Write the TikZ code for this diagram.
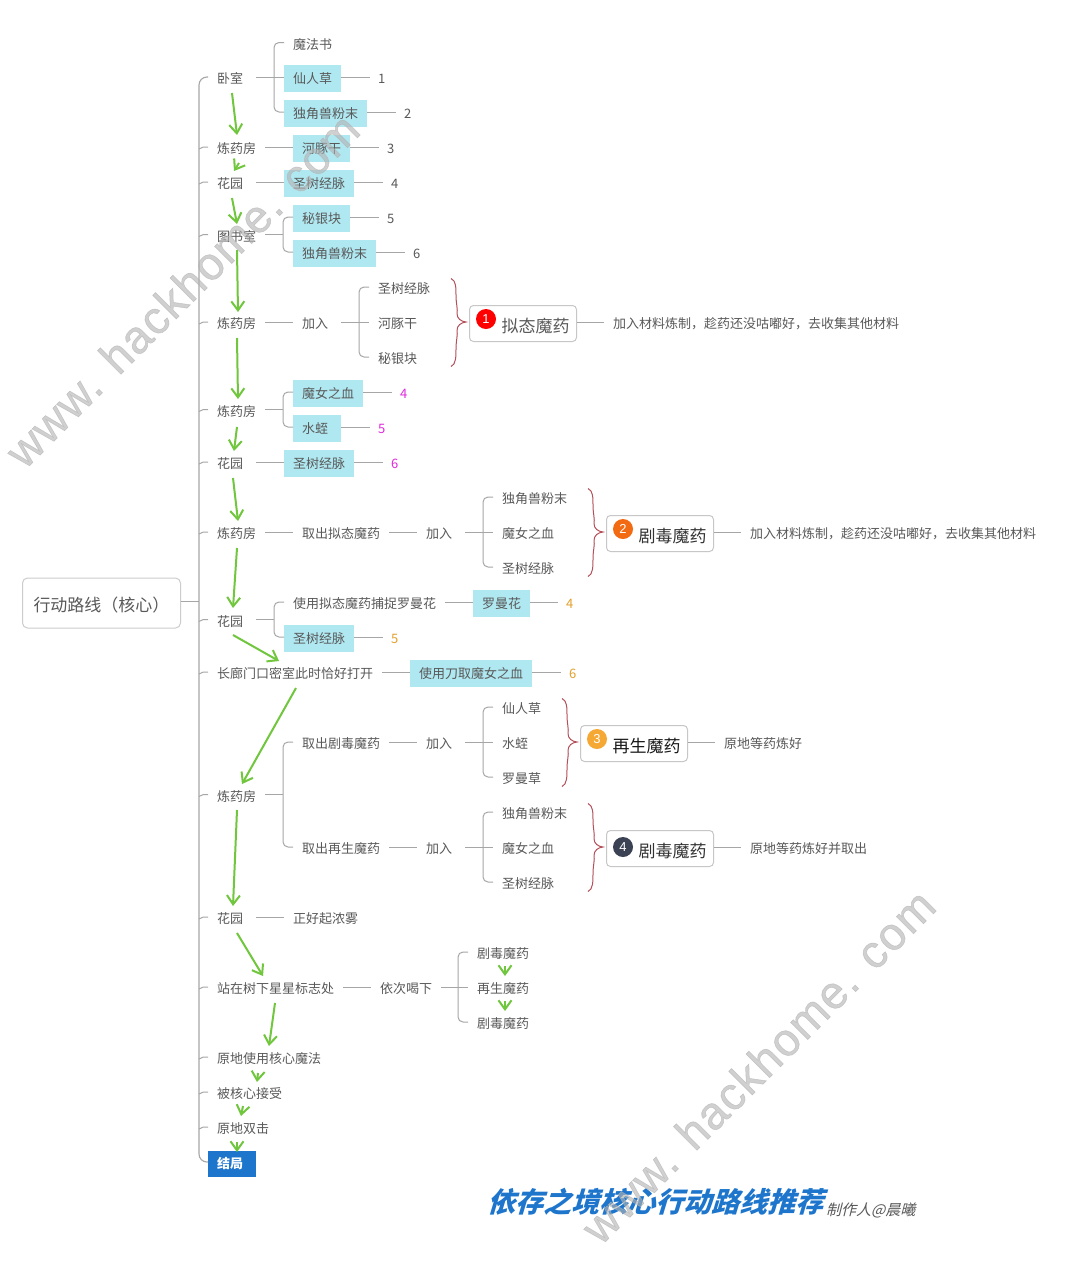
\documentclass[tikz,border=0pt]{standalone}
\usepackage{fontspec}
\setmainfont{Noto Sans CJK SC}
\newfontfamily\ttlfont[BoldFeatures={FakeSlant=0.3}]{Noto Sans CJK SC}
\newfontfamily\autfont[FakeSlant=0.25]{Noto Sans CJK SC}
\newfontfamily\wmfont[LetterSpace=3,FakeBold=1.2]{Liberation Sans}
\newfontfamily\numfont{Liberation Sans}
\usetikzlibrary{arrows.meta,calc}
\definecolor{txt}{HTML}{595959}
\definecolor{linec}{HTML}{A6A6A6}
\definecolor{boxc}{HTML}{B0E8F1}
\definecolor{greena}{HTML}{70C63C}
\definecolor{bracec}{HTML}{B4505A}
\definecolor{blueb}{HTML}{1E76CC}
\definecolor{magn}{HTML}{E02ADC}
\definecolor{orng}{HTML}{E3A02C}
\definecolor{icontwo}{HTML}{F26A11}
\definecolor{iconthree}{HTML}{F5A833}
\definecolor{iconfour}{HTML}{3A4254}
\tikzset{
 tn/.style={anchor=west,inner xsep=9pt,inner ysep=0pt,minimum height=27pt,text=txt,text height=12.5pt,text depth=2.5pt,font=\fontsize{13}{13}\selectfont},
 two/.style={text width=30pt,align=left},
 bx/.style={tn,fill=boxc},
 num/.style={tn,inner xsep=8pt},
 conn/.style={draw=linec,line width=1pt},
 trunk/.style={draw=linec,line width=1.1pt},
 garrow/.style={draw=greena,line width=2pt,-{Straight Barb[length=9pt,width=13pt,line width=2pt]}},
 brc/.style={draw=bracec,line width=1pt},
 drug/.style={anchor=west,draw=black!22,line width=1pt,fill=white,rounded corners=4pt,inner sep=0pt,minimum height=36pt,text height=20pt,text depth=3pt,text=#1,font=\fontsize{17}{17}\selectfont},
 icon/.style={circle,fill=#1,text=white,inner sep=0pt,minimum size=20pt,font=\numfont\fontsize{13}{13}\selectfont},
 wm/.style={rotate=45,text=black!30,text opacity=.6,inner sep=0pt,font=\wmfont\fontsize{46}{46}\selectfont},
}
\newcommand{\cn}[2]{\draw[conn] ([yshift=1.5pt]#1.east) -- ([yshift=1.5pt]#2.west);}
\newcommand{\brk}[3]{%
 \draw[conn,rounded corners=5pt] ([yshift=1.5pt]#2.west) -- ++(-10,0) |- ([yshift=1.5pt]#3.west);
 \path ([yshift=1.5pt]#2.west) ++(-10,0) coordinate (tmpb);
 \draw[conn] ([yshift=1.5pt]#1.east) -- ([yshift=1.5pt]tmpb |- #1.east);}
\newcommand{\crly}[1]{%
 \draw[brc] ([shift={(-18,-45)}]#1.west) .. controls ([shift={(-13,-43)}]#1.west) and ([shift={(-13,-36)}]#1.west) .. ([shift={(-13,-28)}]#1.west)
 .. controls ([shift={(-13,-20)}]#1.west) and ([shift={(-11,-14)}]#1.west) .. ([shift={(-12,-10)}]#1.west)
 .. controls ([shift={(-12,-5)}]#1.west) and ([shift={(-8,-2)}]#1.west) .. ([shift={(-3,-1.5)}]#1.west)
 .. controls ([shift={(-8,-1)}]#1.west) and ([shift={(-12,2)}]#1.west) .. ([shift={(-12,7)}]#1.west)
 .. controls ([shift={(-11,11)}]#1.west) and ([shift={(-13,17)}]#1.west) .. ([shift={(-13,25)}]#1.west)
 .. controls ([shift={(-13,33)}]#1.west) and ([shift={(-13,41)}]#1.west) .. ([shift={(-18,43)}]#1.west);}
\newcommand{\garr}[6]{\draw[garrow] ([shift={(#2,#3)}]#1.west) -- ([shift={(#5,#6)}]#4.west);}
\begin{document}
\begin{tikzpicture}[x=1pt,y=-1pt]
\useasboundingbox (0,0) rectangle (1075,1262);
\fill[white] (0,0) rectangle (1075,1262);
\coordinate (trk) at (199,0);
% root
\node[anchor=west,draw=black!20,line width=1pt,rounded corners=5pt,inner xsep=11pt,inner ysep=0pt,minimum height=50pt,text width=136pt,align=left,text=txt,text height=19pt,text depth=3pt,font=\fontsize{17}{17}\selectfont] (root) at (22,603) {行动路线（核心）};
% main column
\node[tn,two] (m1) at (208,78.5) {卧室};
\node[tn] (m2) at (208,148.5) {炼药房};
\node[tn,two] (m3) at (208,183.5) {花园};
\node[tn] (m4) at (208,236) {图书室};
\node[tn] (m5) at (208,323.5) {炼药房};
\node[tn] (m6) at (208,411) {炼药房};
\node[tn,two] (m7) at (208,463.5) {花园};
\node[tn] (m8) at (208,533.5) {炼药房};
\node[tn,two] (m9) at (208,621) {花园};
\node[tn] (m10) at (208,673.5) {长廊门口密室此时恰好打开};
\node[tn] (m11) at (208,796) {炼药房};
\node[tn,two] (m12) at (208,918.5) {花园};
\node[tn] (m13) at (208,988.5) {站在树下星星标志处};
\node[tn] (m14) at (208,1058.5) {原地使用核心魔法};
\node[tn] (m15) at (208,1093.5) {被核心接受};
\node[tn] (m16) at (208,1128.5) {原地双击};
\node[tn,two,fill=blueb,text=white,font=\fontsize{13}{13}\selectfont\bfseries,minimum height=26pt] (m17) at (208,1163.5) {结局};
% trunk
\draw[trunk,rounded corners=8pt] ([yshift=1.5pt]m1.west) -- ++(-9,0) |- ([yshift=1.5pt]m17.west);
\draw[trunk,line width=1.6pt] ([yshift=1.5pt]root.east) -- ([yshift=1.5pt]trk |- root.east);
\foreach \n in {m2,m3,m4,m5,m6,m7,m8,m9,m10,m11,m12,m13,m14,m15,m16}
 \draw[conn] ([yshift=1.5pt]\n.west) .. controls ++(-4,0) and ++(2,-2) .. ++(-9,2);
% bedroom
\node[tn] (a1) at (284,44) {魔法书};
\node[bx] (a2) at (284,78.5) {仙人草};
\node[bx] (a3) at (284,113.5) {独角兽粉末};
\node[num] (n1) at (370,78.5) {1};
\node[num] (n2) at (396,113.5) {2};
\brk{m1}{a1}{a3}\cn{m1}{a2}\cn{a2}{n1}\cn{a3}{n2}
% lab 1
\node[bx] (b1) at (293,148.5) {河豚干};
\node[num] (n3) at (379,148.5) {3};
\cn{m2}{b1}\cn{b1}{n3}
% garden 1
\node[bx] (c1) at (284,183.5) {圣树经脉};
\node[num] (n4) at (383,183.5) {4};
\cn{m3}{c1}\cn{c1}{n4}
% library
\node[bx] (d1) at (293,218.5) {秘银块};
\node[bx] (d2) at (293,253.5) {独角兽粉末};
\node[num] (n5) at (379,218.5) {5};
\node[num] (n6) at (405,253.5) {6};
\brk{m4}{d1}{d2}\cn{d1}{n5}\cn{d2}{n6}
% lab 2
\node[tn,two] (e1) at (293,323.5) {加入};
\node[tn] (e2) at (369,288.5) {圣树经脉};
\node[tn] (e3) at (369,323.5) {河豚干};
\node[tn] (e4) at (369,358.5) {秘银块};
\node[drug=txt] (e5) at (469,323.5) {\hspace*{32pt}拟态魔药\hspace*{7pt}};
\node[icon=red] (e6) at (486,319) {1};
\node[tn] (e7) at (604,323.5) {加入材料炼制，趁药还没咕嘟好，去收集其他材料};
\cn{m5}{e1}\brk{e1}{e2}{e4}\cn{e1}{e3}\crly{e5}\cn{e5}{e7}
% lab 3
\node[bx] (f1) at (293,393.5) {魔女之血};
\node[bx,two] (f2) at (293,428.5) {水蛭};
\node[num,text=magn] (f3) at (392,393.5) {4};
\node[num,text=magn] (f4) at (370,428.5) {5};
\brk{m6}{f1}{f2}\cn{f1}{f3}\cn{f2}{f4}
% garden 2
\node[bx] (g1) at (284,463.5) {圣树经脉};
\node[num,text=magn] (g2) at (383,463.5) {6};
\cn{m7}{g1}\cn{g1}{g2}
% lab 4
\node[tn] (h1) at (293,533.5) {取出拟态魔药};
\node[tn,two] (h2) at (417,533.5) {加入};
\node[tn] (h3) at (493,498.5) {独角兽粉末};
\node[tn] (h4) at (493,533.5) {魔女之血};
\node[tn] (h5) at (493,568.5) {圣树经脉};
\node[drug=black!80] (h6) at (606,533.5) {\hspace*{32pt}剧毒魔药\hspace*{7pt}};
\node[icon=icontwo] (h7) at (623,529) {2};
\node[tn] (h8) at (741,533.5) {加入材料炼制，趁药还没咕嘟好，去收集其他材料};
\cn{m8}{h1}\cn{h1}{h2}\brk{h2}{h3}{h5}\cn{h2}{h4}\crly{h6}\cn{h6}{h8}
% garden 3
\node[tn] (i1) at (284,603.5) {使用拟态魔药捕捉罗曼花};
\node[bx] (i2) at (284,638.5) {圣树经脉};
\node[bx] (i3) at (473,603.5) {罗曼花};
\node[num,text=orng] (i4) at (558,603.5) {4};
\node[num,text=orng] (i5) at (383,638.5) {5};
\brk{m9}{i1}{i2}\cn{i1}{i3}\cn{i3}{i4}\cn{i2}{i5}
% corridor
\node[bx] (j1) at (410,673.5) {使用刀取魔女之血};
\node[num,text=orng] (j2) at (561,673.5) {6};
\cn{m10}{j1}\cn{j1}{j2}
% lab 5
\node[tn] (k1) at (293,743.5) {取出剧毒魔药};
\node[tn,two] (k2) at (417,743.5) {加入};
\node[tn] (k3) at (493,708.5) {仙人草};
\node[tn] (k4) at (493,743.5) {水蛭};
\node[tn] (k5) at (493,778.5) {罗曼草};
\node[drug=black!90] (k6) at (580,743.5) {\hspace*{32pt}再生魔药\hspace*{7pt}};
\node[icon=iconthree] (k7) at (597,739) {3};
\node[tn] (k8) at (715,743.5) {原地等药炼好};
\cn{k1}{k2}\brk{k2}{k3}{k5}\cn{k2}{k4}\crly{k6}\cn{k6}{k8}
\node[tn] (l1) at (293,848.5) {取出再生魔药};
\node[tn,two] (l2) at (417,848.5) {加入};
\node[tn] (l3) at (493,813.5) {独角兽粉末};
\node[tn] (l4) at (493,848.5) {魔女之血};
\node[tn] (l5) at (493,883.5) {圣树经脉};
\node[drug=black!80] (l6) at (606,848.5) {\hspace*{32pt}剧毒魔药\hspace*{7pt}};
\node[icon=iconfour] (l7) at (623,847) {4};
\node[tn] (l8) at (741,848.5) {原地等药炼好并取出};
\brk{m11}{k1}{l1}\cn{l1}{l2}\brk{l2}{l3}{l5}\cn{l2}{l4}\crly{l6}\cn{l6}{l8}
% garden 4
\node[tn] (o1) at (284,918.5) {正好起浓雾};
\cn{m12}{o1}
% star
\node[tn] (p1) at (371,988.5) {依次喝下};
\node[tn] (p2) at (468,953.5) {剧毒魔药};
\node[tn] (p3) at (468,988.5) {再生魔药};
\node[tn] (p4) at (468,1023.5) {剧毒魔药};
\cn{m13}{p1}\brk{p1}{p2}{p4}\cn{p1}{p3}
% green arrows
\garr{m1}{24}{14.5}{m2}{29}{-13.5}
\garr{m2}{31}{14.5}{m3}{26}{-12.5}
\garr{m3}{24}{14.5}{m4}{29}{-12}
\garr{m4}{29}{14}{m5}{30}{-11.5}
\garr{m5}{29}{14.5}{m6}{30}{-12}
\garr{m6}{29}{16}{m7}{26}{-12.5}
\garr{m7}{25}{14.5}{m8}{30}{-12.5}
\garr{m8}{29}{14.5}{m9}{25}{-13}
\garr{m9}{25}{14}{m10}{71}{-12.5}
\garr{m10}{88}{14.5}{m11}{34}{-12}
\garr{m11}{29}{14}{m12}{25}{-12.5}
\garr{m12}{29}{14.5}{m13}{55}{-12.5}
\garr{m13}{67}{14.5}{m14}{61}{-12.5}
\garr{m14}{50}{14.5}{m15}{49}{-11.5}
\garr{m15}{35}{12.5}{m16}{33}{-12.5}
\garr{m16}{29}{13.5}{m17}{29}{-11.5}
\garr{p2}{37}{12.5}{p3}{37}{-12.5}
\garr{p3}{37}{12.5}{p4}{37}{-12.5}
% title
\node[anchor=west,inner sep=0pt,text=blueb,font=\ttlfont\bfseries\fontsize{28}{28}\selectfont] (t1) at (487,1202) {依存之境核心行动路线推荐};
\node[anchor=west,inner sep=0pt,text=txt,font=\autfont\fontsize{15}{15}\selectfont] (t2) at (826,1210) {制作人@晨曦};
% watermarks
\node[wm] (w1) at (182,290) {www. hackhome. com};
\node[wm] (w2) at (758,1066) {www. hackhome. com};
\end{tikzpicture}
\end{document}
